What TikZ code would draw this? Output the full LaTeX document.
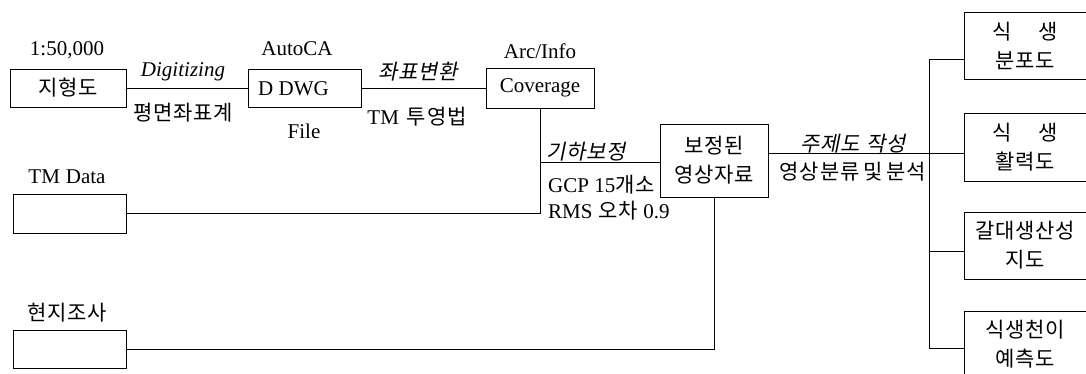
\documentclass[tikz,border=0pt]{standalone}
\usepackage{fontspec}
\setmainfont{Liberation Serif}
\newfontfamily\kr[Scale=1.0,LetterSpace=4]{Noto Sans CJK KR}
\newfontfamily\krit[Scale=1.0,LetterSpace=4,FakeSlant=0.2]{Noto Sans CJK KR}
\begin{document}
\begin{tikzpicture}[x=1pt,y=-1pt,
  every node/.style={font=\fontsize{21}{29}\selectfont, inner sep=0pt},
  box/.style={draw, line width=0.8pt, rectangle},
  conn/.style={line width=0.8pt}]
\useasboundingbox (0,0) rectangle (1086,374);
\clip (0,0) rectangle (1086,374);
% boxes
\node[box, minimum width=116pt, minimum height=38pt] (jh) at (68,88) {\kr 지형도};
\node[box, minimum width=113pt, minimum height=38pt] (dwg) at (304.5,88) {};
\node[box, minimum width=108pt, minimum height=40pt] (cov) at (540,88) {Coverage};
\node[box, minimum width=108pt, minimum height=73pt, align=center] (bz) at (714,160.5) {\kr 보정된\\\kr 영상자료};
\node[box, minimum width=113pt, minimum height=39pt] (tm) at (69.5,213.5) {};
\node[box, minimum width=113pt, minimum height=38pt] (hj) at (69.5,349) {};
\node[box, minimum width=122pt, minimum height=67pt, align=center] (b1) at (1025,45.5) {\kr 식\hspace{26pt}생\\\kr 분포도};
\node[box, minimum width=122pt, minimum height=68pt, align=center] (b2) at (1025,147) {\kr 식\hspace{26pt}생\\\kr 활력도};
\node[box, minimum width=122pt, minimum height=67pt, align=center] (b3) at (1025,245.5) {\kr 갈대생산성\\\kr 지도};
\node[box, minimum width=122pt, minimum height=67pt, align=center] (b4) at (1025,344.5) {\kr 식생천이\\\kr 예측도};
% labels
\node (l1) at (67,50) {1:50,000};
\node (l2) at (183,72) {\itshape Digitizing};
\node (l3) at (183,113) {\kr 평면좌표계};
\node (l4) at (297,49) {AutoCA};
\node[anchor=west] (l5) at (258,89) {D DWG};
\node (l6) at (304,131) {File};
\node (l7) at (418,72) {\krit 좌표변환};
\node (l8) at (417,117) {TM\hspace{8pt}{\kr 투영법}};
\node (l9) at (540,51) {Arc/Info};
\node (l10) at (586,152) {\krit 기하보정};
\node[anchor=west] (l11) at (548,185) {GCP 15{\kr 개소}};
\node[anchor=west] (l12) at (548,211) {RMS\hspace{6pt}{\kr 오차} 0.9};
\node (l13) at (853,144) {\krit 주제도\hspace{6pt}작성};
\node (l14) at (853,172) {\kr 영상분류\hspace{4pt}및\hspace{4pt}분석};
\node (l15) at (67,177) {TM\hspace{6pt}Data};
\node (l16) at (67,313) {\kr 현지조사};
% coordinates
\coordinate (gh) at (540,162);
\coordinate (m) at (768,153);
\coordinate (s1) at (929,59);
\coordinate (s2) at (929,153);
\coordinate (s3) at (929,251);
\coordinate (s4) at (929,348);
% connectors
\draw[conn] (jh.east) -- (dwg.west);
\draw[conn] (dwg.east) -- (cov.west);
\draw[conn] (cov.south) -- (cov.south |- tm.east) -- (tm.east);
\draw[conn] (gh) -- (gh -| bz.west);
\draw[conn] (m) -- (m -| b2.west);
\draw[conn] (hj.east) -- (hj.east -| bz.south) -- (bz.south);
\draw[conn] (s1) -- (s4);
\draw[conn] (s1) -- (s1 -| b1.west);
\draw[conn] (s3) -- (s3 -| b3.west);
\draw[conn] (s4) -- (s4 -| b4.west);
\end{tikzpicture}
\end{document}
